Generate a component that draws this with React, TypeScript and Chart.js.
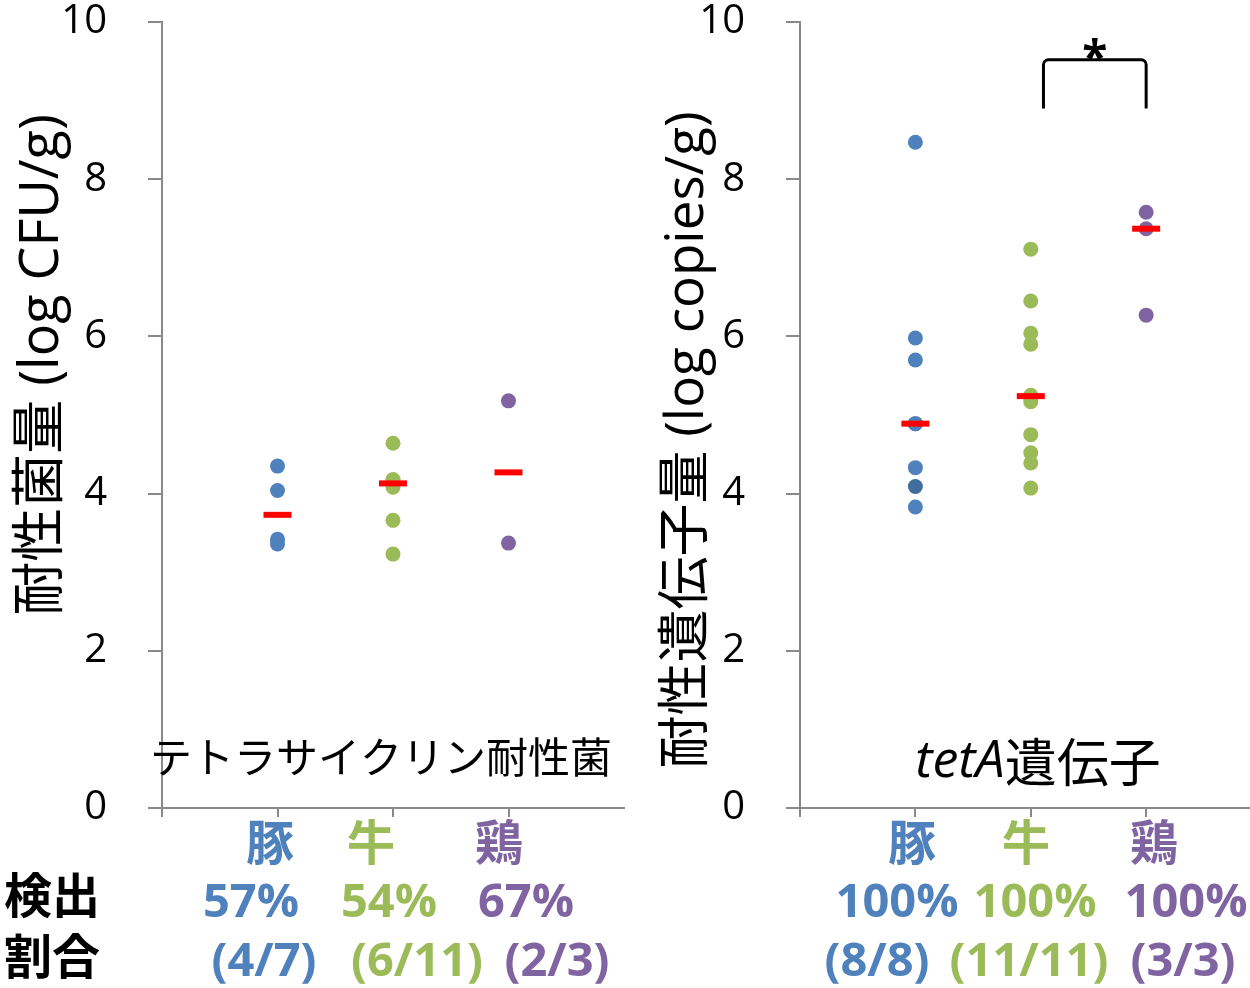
import React, { useEffect, useRef } from 'react';
import { Chart, registerables } from 'chart.js';

Chart.register(...registerables);

// ---------- data ----------
const categories = ['豚', '牛', '鶏'];
const yTicks = [0, 2, 4, 6, 8, 10];

// left: resistant bacteria (log CFU/g)
const cfuPig = [4.35, 4.04, 3.42, 3.36];
const cfuCattle = [4.64, 4.18, 4.17, 4.08, 3.66, 3.23];
const cfuChicken = [5.18, 3.37];
const cfuMedian = [3.73, 4.13, 4.27];
const cfuRate = ['57%', '54%', '67%'];
const cfuCount = ['(4/7)', '(6/11)', '(2/3)'];

// right: tetA gene (log copies/g)
const tetPig = [8.47, 5.98, 5.7, 4.89, 4.89, 4.33, 4.09, 3.83];
const tetCattle = [7.11, 6.45, 6.04, 5.9, 5.25, 5.23, 5.17, 4.75, 4.52, 4.39, 4.07];
const tetChicken = [7.58, 7.37, 6.27];
const tetMedian = [4.89, 5.24, 7.37];
const tetRate = ['100%', '100%', '100%'];
const tetCount = ['(8/8)', '(11/11)', '(3/3)'];

// ---------- style / layout ----------
const COLORS = ['#4F81BD', '#9BBB59', '#8064A2'];
const PIG_DARK = '#3F6E9F';
const GRAY = '#898989';
const FONT = '"Open Sans", "Noto Sans CJK JP", sans-serif';
const CJK = '"Noto Sans CJK JP", sans-serif';
const PANEL_W = 625;
const H = 988;

const catLabelX = [[270, 371, 499], [912, 1026, 1154]];
const rateX = [[251, 389, 526], [897, 1035, 1186]];
const countX = [[264, 417, 557], [877, 1029, 1183]];

function rotatedText(ctx: CanvasRenderingContext2D, text: string, x: number, y: number, font: string) {
  ctx.save();
  ctx.translate(x, y);
  ctx.rotate(-Math.PI / 2);
  ctx.font = font;
  ctx.textAlign = 'center';
  ctx.textBaseline = 'middle';
  ctx.fillStyle = '#000';
  ctx.fillText(text, 0, 0);
  ctx.restore();
}

function drawBottom(ctx: CanvasRenderingContext2D, panel: number, off: number, rates: string[], counts: string[]) {
  ctx.save();
  ctx.textAlign = 'center';
  for (let i = 0; i < 3; i++) {
    ctx.fillStyle = COLORS[i];
    ctx.font = `bold 48px ${CJK}`;
    ctx.textBaseline = 'middle';
    ctx.fillText(categories[i], catLabelX[panel][i] - off, 842);
    ctx.font = `bold 47px ${FONT}`;
    ctx.textBaseline = 'alphabetic';
    ctx.fillText(rates[i], rateX[panel][i] - off, 917);
    ctx.fillText(counts[i], countX[panel][i] - off, 976);
  }
  ctx.restore();
}

function drawLeft(chart: Chart) {
  const ctx = chart.ctx;
  rotatedText(ctx, '耐性菌量 (log CFU/g)', 43, 365, `54px ${FONT}`);
  ctx.save();
  ctx.fillStyle = '#000';
  ctx.textAlign = 'center';
  ctx.textBaseline = 'middle';
  ctx.font = `42px ${CJK}`;
  ctx.fillText('テトラサイクリン耐性菌', 381, 757);
  ctx.font = `bold 48px ${CJK}`;
  ctx.fillText('検出', 52, 895);
  ctx.fillText('割合', 52, 956);
  ctx.restore();
  drawBottom(ctx, 0, 0, cfuRate, cfuCount);
}

function drawRight(chart: Chart) {
  const ctx = chart.ctx;
  const off = PANEL_W;
  rotatedText(ctx, '耐性遺伝子量 (log copies/g)', 688 - off, 440, `53px ${FONT}`);
  // tetA遺伝子 label
  ctx.save();
  ctx.fillStyle = '#000';
  ctx.textBaseline = 'middle';
  ctx.textAlign = 'left';
  const italic = `italic 52px ${FONT}`;
  const regular = `52px ${CJK}`;
  ctx.font = italic;
  const w1 = ctx.measureText('tetA').width;
  ctx.font = regular;
  const w2 = ctx.measureText('遺伝子').width;
  const startX = 1038 - off - (w1 + w2) / 2;
  ctx.font = italic;
  ctx.fillText('tetA', startX, 762);
  ctx.font = regular;
  ctx.fillText('遺伝子', startX + w1, 762);
  ctx.restore();

  // significance bracket
  const xs = chart.scales.x;
  const ys = chart.scales.y;
  const x1 = xs.getPixelForValue(2.11);
  const x2 = xs.getPixelForValue(3.0);
  const yt = ys.getPixelForValue(9.52);
  const yb = ys.getPixelForValue(8.9);
  const r = 5;
  ctx.save();
  ctx.strokeStyle = '#000';
  ctx.lineWidth = 3;
  ctx.beginPath();
  ctx.moveTo(x1, yb);
  ctx.lineTo(x1, yt + r);
  ctx.arcTo(x1, yt, x1 + r, yt, r);
  ctx.lineTo(x2 - r, yt);
  ctx.arcTo(x2, yt, x2, yt + r, r);
  ctx.lineTo(x2, yb);
  ctx.stroke();
  ctx.fillStyle = '#000';
  ctx.font = `bold 46px ${FONT}`;
  ctx.textAlign = 'center';
  ctx.textBaseline = 'alphabetic';
  ctx.fillText('*', (x1 + x2) / 2, 74);
  ctx.restore();

  drawBottom(ctx, 1, off, tetRate, tetCount);
}

type PanelCfg = {
  groups: number[][];
  medians: number[];
  xMax: number;
  axisWidth: number;
  padRight: number;
  pointColors: (string | string[])[];
  draw: (c: Chart) => void;
};

function zeroPad(s: any) {
  s.paddingTop = 0;
  s.paddingBottom = 0;
  s.paddingLeft = 0;
  s.paddingRight = 0;
}

function buildChart(canvas: HTMLCanvasElement, cfg: PanelCfg) {
  const datasets: any[] = [
    {
      label: 'median',
      data: cfg.medians.map((v, i) => ({ x: i + 1, y: v })),
      pointStyle: 'line',
      pointRadius: 14,
      pointBorderColor: '#FF0000',
      pointBorderWidth: 6,
      showLine: false,
    },
    ...cfg.groups.map((vals, i) => ({
      label: categories[i],
      data: vals.map((v) => ({ x: i + 1, y: v })),
      pointRadius: 7.5,
      pointBackgroundColor: cfg.pointColors[i],
      pointBorderWidth: 0,
      pointBorderColor: 'rgba(0,0,0,0)',
      showLine: false,
    })),
  ];
  return new Chart(canvas, {
    type: 'scatter',
    data: { datasets },
    options: {
      animation: false,
      responsive: false,
      events: [],
      layout: { autoPadding: false, padding: { top: 22, left: 0, right: cfg.padRight, bottom: 0 } },
      plugins: { legend: { display: false }, tooltip: { enabled: false }, title: { display: false } },
      scales: {
        x: {
          type: 'linear',
          min: 0,
          max: cfg.xMax,
          afterFit: (s: any) => {
            s.height = 180;
            zeroPad(s);
          },
          ticks: { display: false, stepSize: 1 },
          grid: {
            drawOnChartArea: false,
            drawTicks: true,
            tickLength: 9,
            lineWidth: 2,
            color: GRAY,
            tickColor: (c: any) =>
              c.tick && Number.isInteger(c.tick.value) && c.tick.value < 3.5 ? GRAY : 'rgba(0,0,0,0)',
          },
          border: { display: true, color: GRAY, width: 2 },
        },
        y: {
          type: 'linear',
          min: 0,
          max: 10,
          afterFit: (s: any) => {
            s.width = cfg.axisWidth;
            zeroPad(s);
          },
          afterBuildTicks: (s: any) => {
            s.ticks = yTicks.map((v) => ({ value: v }));
          },
          ticks: {
            color: '#000',
            padding: 41,
            font: { family: FONT, size: 40, lineHeight: 1 },
          },
          grid: {
            drawOnChartArea: false,
            drawTicks: true,
            tickLength: 14,
            lineWidth: 2,
            color: GRAY,
          },
          border: { display: true, color: GRAY, width: 2 },
        },
      },
    },
    plugins: [
      {
        id: 'annotations',
        afterDraw: (chart: Chart) => cfg.draw(chart),
      },
    ],
  } as any);
}

export default function App() {
  const leftRef = useRef<HTMLCanvasElement>(null);
  const rightRef = useRef<HTMLCanvasElement>(null);

  useEffect(() => {
    const left = buildChart(leftRef.current!, {
      groups: [cfuPig, cfuCattle, cfuChicken],
      medians: cfuMedian,
      xMax: 4,
      axisWidth: 162,
      padRight: 1,
      pointColors: COLORS,
      draw: drawLeft,
    });
    const right = buildChart(rightRef.current!, {
      groups: [tetPig, tetCattle, tetChicken],
      medians: tetMedian,
      xMax: 3.9,
      axisWidth: 175,
      padRight: 0,
      pointColors: [tetPig.map((_, k) => (k === 6 ? PIG_DARK : COLORS[0])), COLORS[1], COLORS[2]],
      draw: drawRight,
    });
    return () => {
      left.destroy();
      right.destroy();
    };
  }, []);

  return (
    <div style={{ position: 'fixed', left: 0, top: 0, width: 1250, height: H, background: '#fff', overflow: 'hidden' }}>
      <canvas ref={leftRef} width={PANEL_W} height={H} style={{ position: 'absolute', left: 0, top: 0, width: PANEL_W, height: H }} />
      <canvas ref={rightRef} width={PANEL_W} height={H} style={{ position: 'absolute', left: PANEL_W, top: 0, width: PANEL_W, height: H }} />
    </div>
  );
}
